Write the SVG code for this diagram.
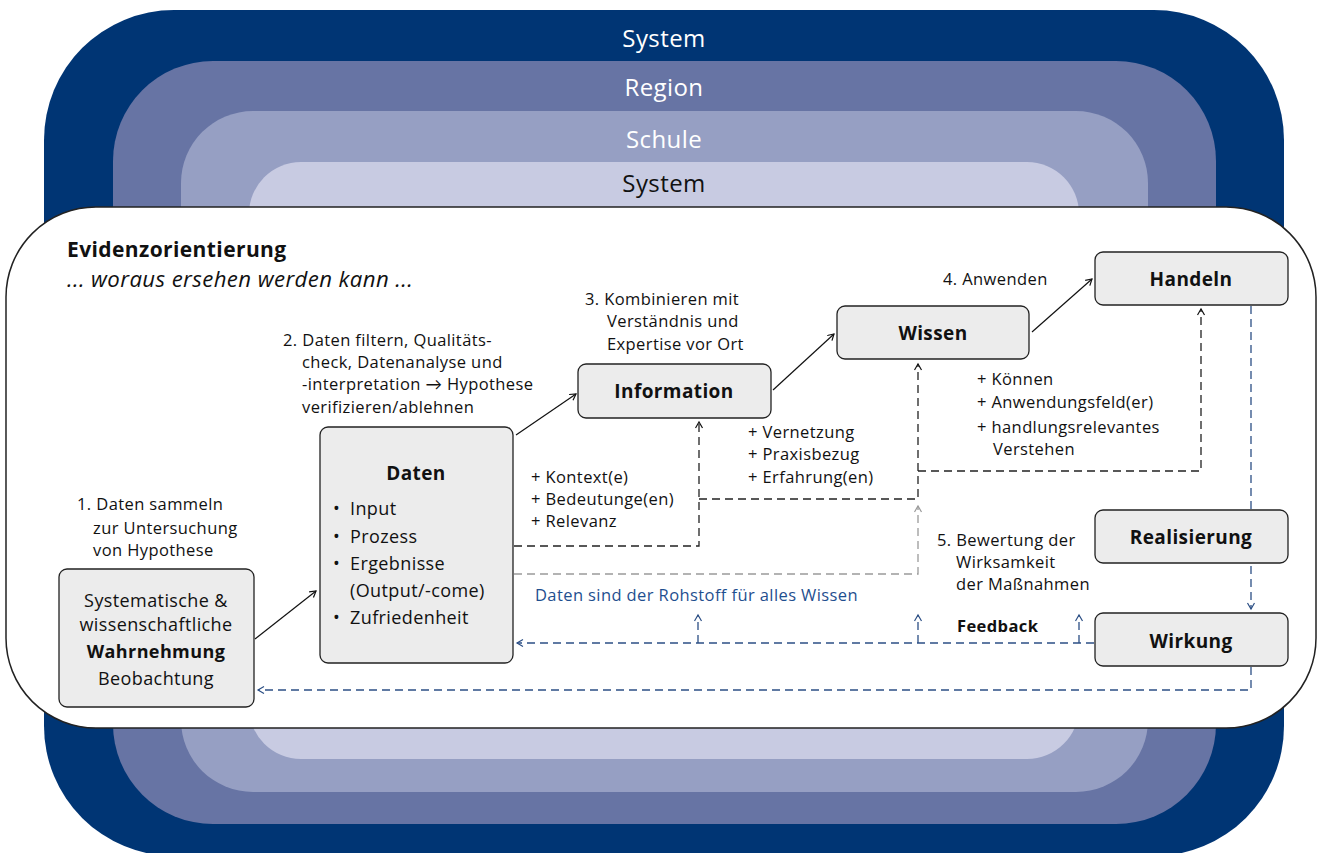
<svg xmlns="http://www.w3.org/2000/svg" width="1318" height="853" viewBox="0 0 1318 853">
<defs>
<style>
text{font-family:"Open Sans","Noto Sans",sans-serif;fill:#111;letter-spacing:0.4px}
.lab{font-size:16.5px}
.node{font-size:18px}
.b{font-weight:bold}
.ttl{font-size:19px;font-weight:bold;text-anchor:middle}
.box{fill:#ececec;stroke:#222;stroke-width:1.3}
.sol{fill:none;stroke:#111;stroke-width:1.2}
.dk{fill:none;stroke:#222;stroke-width:1.3;stroke-dasharray:8 5}
.gr{fill:none;stroke:#9a9a9a;stroke-width:1.3;stroke-dasharray:8 5}
.bl{fill:none;stroke:#2c4f85;stroke-width:1.3;stroke-dasharray:8 5}
.lay{font-size:24px;text-anchor:middle}
</style>
<marker id="aK" markerWidth="10" markerHeight="10" refX="7" refY="4" orient="auto" markerUnits="userSpaceOnUse"><path d="M1,0.5 L7,4 L1,7.5" fill="none" stroke="#111" stroke-width="1.2"/></marker>
<marker id="aG" markerWidth="10" markerHeight="10" refX="7" refY="4" orient="auto" markerUnits="userSpaceOnUse"><path d="M1,0.5 L7,4 L1,7.5" fill="none" stroke="#9a9a9a" stroke-width="1.2"/></marker>
<marker id="aB" markerWidth="10" markerHeight="10" refX="7" refY="4" orient="auto" markerUnits="userSpaceOnUse"><path d="M1,0.5 L7,4 L1,7.5" fill="none" stroke="#2c4f85" stroke-width="1.2"/></marker>
</defs>
<rect width="1318" height="853" fill="#fff"/>
<g id="layers">
<rect x="44" y="10" width="1240" height="846" rx="130" fill="#003574"/>
<rect x="113" y="61" width="1103" height="763" rx="100" fill="#6774a4"/>
<rect x="181" y="111" width="967" height="681" rx="72" fill="#969fc3"/>
<rect x="249" y="162" width="830" height="597" rx="52" fill="#c8cbe2"/>
<text class="lay" x="664" y="47" style="fill:#fff">System</text>
<text class="lay" x="664" y="96" style="fill:#fff">Region</text>
<text class="lay" x="664" y="148" style="fill:#fff">Schule</text>
<text class="lay" x="664" y="192">System</text>
</g>
<g id="evidenz">
<rect x="6" y="207" width="1310" height="521" rx="90" fill="#fff" stroke="#222" stroke-width="1.5"/>
<text x="67" y="257" style="font-size:21px;font-weight:bold">Evidenzorientierung</text>
<text x="67" y="287" style="font-size:22.2px;font-style:italic">... woraus ersehen werden kann ...</text>
</g>
<g id="connectors">
<path class="sol" d="M255,639 L316,591" marker-end="url(#aK)"/>
<path class="sol" d="M516,435 L576,394" marker-end="url(#aK)"/>
<path class="sol" d="M773,390 L834,334" marker-end="url(#aK)"/>
<path class="sol" d="M1032,332 L1092,279" marker-end="url(#aK)"/>
<path class="dk" d="M514,546 H699 V422" marker-end="url(#aK)"/>
<path class="dk" d="M699,499 H918 V364" marker-end="url(#aK)"/>
<path class="dk" d="M918,471 H1201 V309" marker-end="url(#aK)"/>
<path class="gr" d="M514,574 H918 V506" marker-end="url(#aG)"/>
<path class="bl" d="M1251,306 V609" marker-end="url(#aB)"/>
<path class="bl" d="M1094,643 H517" marker-end="url(#aB)"/>
<path class="bl" d="M698,643 V615" marker-end="url(#aB)"/>
<path class="bl" d="M918,643 V615" marker-end="url(#aB)"/>
<path class="bl" d="M1079,643 V615" marker-end="url(#aB)"/>
<path class="bl" d="M1251,667 V690 H258" marker-end="url(#aB)"/>
</g>
<g id="labels">
<text class="lab" x="77" y="510">1. Daten sammeln</text>
<text class="lab" x="93" y="534">zur Untersuchung</text>
<text class="lab" x="93" y="556">von Hypothese</text>
<text class="lab" x="283" y="346">2. Daten filtern, Qualitäts-</text>
<text class="lab" x="302" y="368">check, Datenanalyse und</text>
<text class="lab" x="302" y="390">-interpretation <tspan style="font-family:Lato,'DejaVu Sans',sans-serif">→</tspan> Hypothese</text>
<text class="lab" x="302" y="413">verifizieren/ablehnen</text>
<text class="lab" x="585" y="305">3. Kombinieren mit</text>
<text class="lab" x="607" y="327">Verständnis und</text>
<text class="lab" x="607" y="350">Expertise vor Ort</text>
<text class="lab" x="943" y="285">4. Anwenden</text>
<text class="lab" x="977" y="385">+ Können</text>
<text class="lab" x="977" y="408">+ Anwendungsfeld(er)</text>
<text class="lab" x="977" y="433">+ handlungsrelevantes</text>
<text class="lab" x="993" y="455">Verstehen</text>
<text class="lab" x="748" y="438">+ Vernetzung</text>
<text class="lab" x="748" y="460">+ Praxisbezug</text>
<text class="lab" x="748" y="483">+ Erfahrung(en)</text>
<text class="lab" x="531" y="483">+ Kontext(e)</text>
<text class="lab" x="531" y="505">+ Bedeutunge(en)</text>
<text class="lab" x="531" y="527">+ Relevanz</text>
<text class="lab" x="535" y="601" style="fill:#1f4f8f">Daten sind der Rohstoff für alles Wissen</text>
<text class="lab" x="937" y="546">5. Bewertung der</text>
<text class="lab" x="956" y="568">Wirksamkeit</text>
<text class="lab" x="956" y="590">der Maßnahmen</text>
<text class="lab b" x="957" y="632">Feedback</text>
</g>
<g id="node-wahrnehmung">
<rect class="box" x="59" y="569" width="195" height="138" rx="8"/>
<text class="node" x="156" y="607" text-anchor="middle">Systematische &amp;</text>
<text class="node" x="156" y="631" text-anchor="middle">wissenschaftliche</text>
<text class="node b" x="156" y="658" text-anchor="middle">Wahrnehmung</text>
<text class="node" x="156" y="685" text-anchor="middle">Beobachtung</text>
</g>
<g id="node-daten">
<rect class="box" x="320" y="427" width="193" height="236" rx="8"/>
<text class="ttl" x="416" y="480">Daten</text>
<text class="node" x="333" y="515">•</text><text class="node" x="350" y="515">Input</text>
<text class="node" x="333" y="543">•</text><text class="node" x="350" y="543">Prozess</text>
<text class="node" x="333" y="570">•</text><text class="node" x="350" y="570">Ergebnisse</text>
<text class="node" x="350" y="597">(Output/-come)</text>
<text class="node" x="333" y="624">•</text><text class="node" x="350" y="624">Zufriedenheit</text>
</g>
<g id="node-information">
<rect class="box" x="578" y="364" width="193" height="54" rx="8"/>
<text class="ttl" x="674" y="398">Information</text>
</g>
<g id="node-wissen">
<rect class="box" x="837" y="306" width="192" height="53" rx="8"/>
<text class="ttl" x="933" y="340">Wissen</text>
</g>
<g id="node-handeln">
<rect class="box" x="1095" y="252" width="193" height="53" rx="8"/>
<text class="ttl" x="1191" y="286">Handeln</text>
</g>
<g id="node-realisierung">
<rect class="box" x="1095" y="510" width="193" height="53" rx="8"/>
<text class="ttl" x="1191" y="544">Realisierung</text>
</g>
<g id="node-wirkung">
<rect class="box" x="1095" y="613" width="193" height="53" rx="8"/>
<text class="ttl" x="1191" y="648">Wirkung</text>
</g>
</svg>
